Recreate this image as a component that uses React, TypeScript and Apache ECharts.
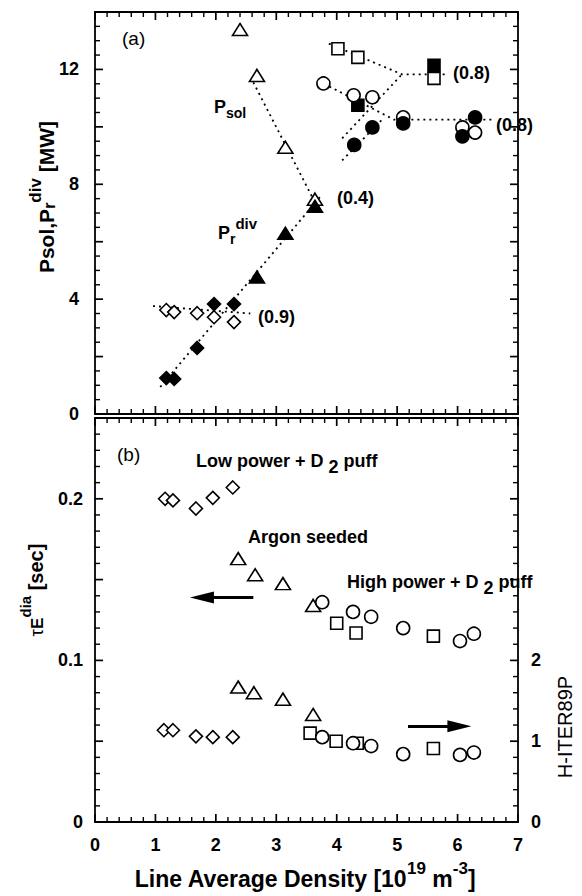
import React, { useEffect, useRef } from "react";
import * as echarts from "echarts";

// ---------- Panel (a): power vs density ----------
const argonPsolX = [2.40, 2.68, 3.15, 3.64];
const argonPsolY = [13.39, 11.79, 9.29, 7.48];
const argonPrdX = [2.68, 3.15, 3.64];
const argonPrdY = [4.77, 6.29, 7.23];
const lowPsolX = [1.18, 1.31, 1.69, 1.97, 2.30];
const lowPsolY = [3.62, 3.55, 3.51, 3.37, 3.20];
const lowPrdX = [1.18, 1.31, 1.69, 1.97, 2.30];
const lowPrdY = [1.25, 1.22, 2.30, 3.83, 3.83];
const sqPsolX = [4.02, 4.35, 5.61];
const sqPsolY = [12.72, 12.42, 11.69];
const sqPrdX = [4.35, 5.61];
const sqPrdY = [10.75, 12.14];
const circPsolX = [3.78, 4.28, 4.59, 5.10, 6.08, 6.29];
const circPsolY = [11.51, 11.10, 11.03, 10.33, 9.98, 9.80];
const circPrdX = [4.29, 4.59, 5.10, 6.08, 6.29];
const circPrdY = [9.37, 9.98, 10.12, 9.67, 10.33];

// dotted guide lines (data coordinates)
const fitArgonPsol = [[2.62, 11.55], [3.62, 7.45]];
const fitPrdiv = [[1.08, 0.94], [3.74, 7.6]];
const fitLowPsol = [[0.96, 3.76], [2.57, 3.50]];
const fitSqPsol = [[3.87, 12.9], [5.08, 11.83], [5.85, 11.83]];
const fitSqPrd = [[4.09, 9.6], [5.08, 11.83]];
const fitCircPsol = [[3.79, 11.5], [4.95, 10.25], [6.58, 10.25]];
const fitCircPrd = [[4.09, 8.83], [4.75, 10.25]];

// ---------- Panel (b): confinement time and H factor ----------
const tauLowX = [1.16, 1.29, 1.67, 1.95, 2.28];
const tauLowY = [0.200, 0.199, 0.194, 0.2006, 0.207];
const tauArX = [2.37, 2.65, 3.11, 3.61];
const tauArY = [0.163, 0.153, 0.1475, 0.134];
const tauCircX = [3.76, 4.27, 4.57, 5.10, 6.04, 6.27];
const tauCircY = [0.136, 0.130, 0.127, 0.120, 0.112, 0.1165];
const tauSqX = [4.00, 4.32, 5.60];
const tauSqY = [0.123, 0.117, 0.115];

const hLowX = [1.14, 1.29, 1.67, 1.95, 2.28];
const hLowY = [1.136, 1.136, 1.06, 1.05, 1.05];
const hArX = [2.37, 2.63, 3.11, 3.61];
const hArY = [1.67, 1.60, 1.52, 1.33];
const hSqX = [3.56, 3.99, 4.34, 5.60];
const hSqY = [1.10, 1.00, 0.975, 0.91];
const hCircX = [3.76, 4.27, 4.57, 5.10, 6.04, 6.27];
const hCircY = [1.05, 0.975, 0.94, 0.84, 0.83, 0.86];

const arrowTau = [[2.62, 0.139], [1.77, 0.139]];
const arrowH = [[5.18, 1.185], [6.03, 1.185]];

// axis ranges and tick labels
const xRange = [0, 7];
const powerRange = [0, 14];
const tauRange = [0, 0.25];
const hRange = [0, 5];
const xTicks = [0, 1, 2, 3, 4, 5, 6, 7];
const powerTickLabels = [0, 4, 8, 12];
const tauTickLabels = ["0", "0.1", "0.2"];
const hTickLabels = [0, 1, 2];
// tick spacing: [minor step, minor ticks per major]
const xTickStep = [0.2, 5];
const powerTickStep = [0.5, 4];
const tauTickStep = [0.01, 5];
const hTickStep = [0.2, 5];

const FONT = "'Liberation Sans', Arial, Helvetica, sans-serif";

function zip(xs: number[], ys: number[]) {
  return xs.map((x, i) => [x, ys[i]]);
}

function tickValues(range: number[], step: number[]) {
  const n = Math.round((range[1] - range[0]) / step[0]);
  const out: number[][] = [];
  for (let i = 0; i <= n; i++) out.push([range[0] + i * step[0], i % step[1] === 0 ? 1 : 0]);
  return out;
}

// ticks drawn through the axis scales with a custom series
function ticks(xi: number, yi: number, dir: "x" | "y", at: number, sign: number, range: number[], step: number[]) {
  return {
    type: "custom",
    xAxisIndex: xi,
    yAxisIndex: yi,
    coordinateSystem: "cartesian2d",
    silent: true,
    clip: false,
    z: 2,
    data: tickValues(range, step),
    renderItem: (_p: any, api: any) => {
      const v = api.value(0);
      const major = api.value(1) === 1;
      const len = major ? 8 : 5;
      const pt = dir === "x" ? api.coord([v, at]) : api.coord([at, v]);
      const shape =
        dir === "x"
          ? { x1: pt[0], y1: pt[1], x2: pt[0], y2: pt[1] + sign * len }
          : { x1: pt[0], y1: pt[1], x2: pt[0] + sign * len, y2: pt[1] };
      return { type: "line", shape, style: { stroke: "#000", lineWidth: major ? 1.7 : 1.4 } };
    },
  };
}

function scatter(xs: number[], ys: number[], symbol: string, filled: boolean, size: any, xi: number, yi: number) {
  return {
    type: "scatter",
    xAxisIndex: xi,
    yAxisIndex: yi,
    symbol,
    symbolSize: size,
    z: 5,
    itemStyle: { color: filled ? "#000" : "#fff", borderColor: "#000", borderWidth: 1.6, opacity: 1 },
    data: zip(xs, ys),
  };
}

function dotted(pts: number[][], xi: number, yi: number) {
  return {
    type: "line",
    xAxisIndex: xi,
    yAxisIndex: yi,
    symbol: "none",
    z: 3,
    lineStyle: { color: "#000", width: 1.8, type: [2, 4] },
    data: pts,
  };
}

function arrow(pts: number[][], xi: number, yi: number) {
  return {
    type: "line",
    xAxisIndex: xi,
    yAxisIndex: yi,
    symbol: "none",
    data: [],
    markLine: {
      silent: true,
      symbol: ["none", "triangle"],
      symbolSize: [12, 24],
      label: { show: false },
      lineStyle: { color: "#000", width: 3, type: "solid" },
      data: [[{ coord: pts[0] }, { coord: pts[1] }]],
    },
  };
}

const axisLineStyle = { show: true, onZero: false, lineStyle: { color: "#000", width: 1.8 } };
const labelStyle = { show: true, color: "#000", fontWeight: "bold", fontSize: 18, fontFamily: FONT };

function xAxis(grid: number, pos: string, showLabel: boolean) {
  return {
    type: "value",
    gridIndex: grid,
    position: pos,
    min: xRange[0],
    max: xRange[1],
    interval: 1,
    axisLine: axisLineStyle,
    axisTick: { show: false },
    splitLine: { show: false },
    axisLabel: showLabel
      ? { ...labelStyle, margin: 14, formatter: (v: number) => (xTicks.includes(v) ? String(v) : "") }
      : { show: false },
  };
}

function yAxis(grid: number, pos: string, range: number[], interval: number, label: any) {
  return {
    type: "value", gridIndex: grid, position: pos, min: range[0], max: range[1], interval,
    axisLine: axisLineStyle, axisTick: { show: false },
    splitLine: { show: false },
    axisLabel: label,
  };
}

export default function App() {
  const ref = useRef<HTMLDivElement>(null);
  useEffect(() => {
    if (!ref.current) return;
    const chart = echarts.init(ref.current, null, { renderer: "svg" });
    const option: any = {
      animation: false,
      backgroundColor: "#fff",
      grid: [
        { left: 95, top: 12, width: 423, height: 402 },
        { left: 95, top: 418, width: 423, height: 404 },
      ],
      xAxis: [xAxis(0, "bottom", false), xAxis(0, "top", false), xAxis(1, "bottom", true), xAxis(1, "top", false)],
      yAxis: [
        yAxis(0, "left", powerRange, 2, { ...labelStyle, margin: 16, formatter: (v: number) => (powerTickLabels.includes(v) ? String(v) : "") }),
        yAxis(0, "right", powerRange, 2, { show: false }),
        yAxis(1, "left", tauRange, 0.05, {
          ...labelStyle, margin: 12,
          formatter: (v: number) => {
            const s = String(Math.round(v * 100) / 100);
            return tauTickLabels.includes(s) ? s : "";
          },
        }),
        yAxis(1, "right", hRange, 1, { ...labelStyle, margin: 13, formatter: (v: number) => (hTickLabels.includes(v) ? String(v) : "") }),
      ],
      series: [
        // frame ticks, panel (a)
        ticks(0, 0, "x", powerRange[0], -1, xRange, xTickStep),
        ticks(0, 0, "x", powerRange[1], 1, xRange, xTickStep),
        ticks(0, 0, "y", xRange[0], 1, powerRange, powerTickStep),
        ticks(0, 0, "y", xRange[1], -1, powerRange, powerTickStep),
        // frame ticks, panel (b)
        ticks(2, 2, "x", tauRange[0], -1, xRange, xTickStep),
        ticks(2, 2, "x", tauRange[1], 1, xRange, xTickStep),
        ticks(2, 2, "y", xRange[0], 1, tauRange, tauTickStep),
        ticks(2, 3, "y", xRange[1], -1, hRange, hTickStep),

        dotted(fitArgonPsol, 0, 0),
        dotted(fitPrdiv, 0, 0),
        dotted(fitLowPsol, 0, 0),
        dotted(fitSqPsol, 0, 0),
        dotted(fitSqPrd, 0, 0),
        dotted(fitCircPsol, 0, 0),
        dotted(fitCircPrd, 0, 0),
        scatter(argonPsolX, argonPsolY, "triangle", false, [15, 12], 0, 0),
        scatter(argonPrdX, argonPrdY, "triangle", true, [15, 12], 0, 0),
        scatter(lowPsolX, lowPsolY, "diamond", false, 13, 0, 0),
        scatter(lowPrdX, lowPrdY, "diamond", true, 13, 0, 0),
        scatter(sqPsolX, sqPsolY, "rect", false, 12, 0, 0),
        scatter(sqPrdX, sqPrdY, "rect", true, 12, 0, 0),
        scatter(circPsolX, circPsolY, "circle", false, 13, 0, 0),
        scatter(circPrdX, circPrdY, "circle", true, 13, 0, 0),

        scatter(tauLowX, tauLowY, "diamond", false, 13, 2, 2),
        scatter(tauArX, tauArY, "triangle", false, [15, 12], 2, 2),
        scatter(tauCircX, tauCircY, "circle", false, 13, 2, 2),
        scatter(tauSqX, tauSqY, "rect", false, 12, 2, 2),
        scatter(hLowX, hLowY, "diamond", false, 13, 2, 3),
        scatter(hArX, hArY, "triangle", false, [15, 12], 2, 3),
        scatter(hSqX, hSqY, "rect", false, 12, 2, 3),
        scatter(hCircX, hCircY, "circle", false, 13, 2, 3),
        arrow(arrowTau, 2, 2),
        arrow(arrowH, 2, 3),
      ],
      graphic: [
        { type: "text", left: 122, top: 29, style: { text: "(a)", font: `19px ${FONT}`, fill: "#000" } },
        { type: "text", left: 117, top: 445, style: { text: "(b)", font: `19px ${FONT}`, fill: "#000" } },
        {
          type: "text", x: 214, y: 98,
          style: {
            text: "{m|P}{s|sol}", fill: "#000",
            rich: {
              m: { fontSize: 18, fontWeight: "bold", fontFamily: FONT, verticalAlign: "top", lineHeight: 22 },
              s: { fontSize: 14, fontWeight: "bold", fontFamily: FONT, verticalAlign: "bottom", lineHeight: 22 },
            },
          },
        },
        {
          type: "text", x: 218, y: 216,
          style: {
            text: "{m|P}{s|r}{p|div}", fill: "#000",
            rich: {
              m: { fontSize: 18, fontWeight: "bold", fontFamily: FONT, verticalAlign: "bottom", lineHeight: 26 },
              s: { fontSize: 14, fontWeight: "bold", fontFamily: FONT, verticalAlign: "bottom", lineHeight: 22, padding: [0, 0, -4, 0] },
              p: { fontSize: 15, fontWeight: "bold", fontFamily: FONT, verticalAlign: "top", lineHeight: 22 },
            },
          },
        },
        { type: "text", left: 337, top: 189, style: { text: "(0.4)", font: `bold 18px ${FONT}`, fill: "#000" } },
        { type: "text", left: 453, top: 64, style: { text: "(0.8)", font: `bold 18px ${FONT}`, fill: "#000" } },
        { type: "text", left: 496, top: 116, style: { text: "(0.8)", font: `bold 18px ${FONT}`, fill: "#000" } },
        { type: "text", left: 258, top: 308, style: { text: "(0.9)", font: `bold 18px ${FONT}`, fill: "#000" } },
        {
          type: "text", x: 196, y: 452,
          style: {
            text: "{m|Low power + D }{s|2}{m| puff}", fill: "#000",
            rich: {
              m: { fontSize: 18, fontWeight: "bold", fontFamily: FONT, verticalAlign: "top", lineHeight: 24 },
              s: { fontSize: 18, fontWeight: "bold", fontFamily: FONT, verticalAlign: "bottom", lineHeight: 24 },
            },
          },
        },
        { type: "text", left: 248, top: 528, style: { text: "Argon seeded", font: `bold 18px ${FONT}`, fill: "#000" } },
        {
          type: "text", x: 347, y: 573,
          style: {
            text: "{m|High power + D }{s|2}{m| puff}", fill: "#000",
            rich: {
              m: { fontSize: 18, fontWeight: "bold", fontFamily: FONT, verticalAlign: "top", lineHeight: 24 },
              s: { fontSize: 18, fontWeight: "bold", fontFamily: FONT, verticalAlign: "bottom", lineHeight: 24 },
            },
          },
        },
        {
          type: "text", x: 42, y: 197, rotation: Math.PI / 2,
          style: {
            text: "{m|Psol,P}{s|r}{p|div}{m| [MW]}", fill: "#000", align: "center", verticalAlign: "middle",
            rich: {
              m: { fontSize: 21, fontWeight: "bold", fontFamily: FONT, verticalAlign: "bottom", lineHeight: 30 },
              s: { fontSize: 16, fontWeight: "bold", fontFamily: FONT, verticalAlign: "bottom", lineHeight: 26 },
              p: { fontSize: 17, fontWeight: "bold", fontFamily: FONT, verticalAlign: "top", lineHeight: 26 },
            },
          },
        },
        {
          type: "text", x: 32, y: 590, rotation: Math.PI / 2,
          style: {
            text: "{t|τ}{s|E}{p|dia}{m| [sec]}", fill: "#000", align: "center", verticalAlign: "middle",
            rich: {
              t: { fontSize: 19, fontFamily: FONT, verticalAlign: "bottom", lineHeight: 28 },
              m: { fontSize: 20, fontWeight: "bold", fontFamily: FONT, verticalAlign: "bottom", lineHeight: 28 },
              s: { fontSize: 17, fontWeight: "bold", fontFamily: FONT, verticalAlign: "bottom", lineHeight: 22 },
              p: { fontSize: 15, fontWeight: "bold", fontFamily: FONT, verticalAlign: "top", lineHeight: 26 },
            },
          },
        },
        {
          type: "text", x: 565, y: 727, rotation: Math.PI / 2,
          style: { text: "H-ITER89P", font: `20px ${FONT}`, fill: "#000", align: "center", verticalAlign: "middle" },
        },
        {
          type: "text", x: 305, y: 875,
          style: {
            text: "{m|Line Average Density [10}{p|19}{m| m}{p|-3}{m|]}", fill: "#000", align: "center", verticalAlign: "middle",
            rich: {
              m: { fontSize: 23, fontWeight: "bold", fontFamily: FONT, verticalAlign: "bottom", lineHeight: 30 },
              p: { fontSize: 17, fontWeight: "bold", fontFamily: FONT, verticalAlign: "top", lineHeight: 30 },
            },
          },
        },
      ],
    };
    chart.setOption(option);
    return () => chart.dispose();
  }, []);
  return <div ref={ref} style={{ position: "fixed", left: 0, top: 0, width: 582, height: 896, background: "#fff" }} />;
}
